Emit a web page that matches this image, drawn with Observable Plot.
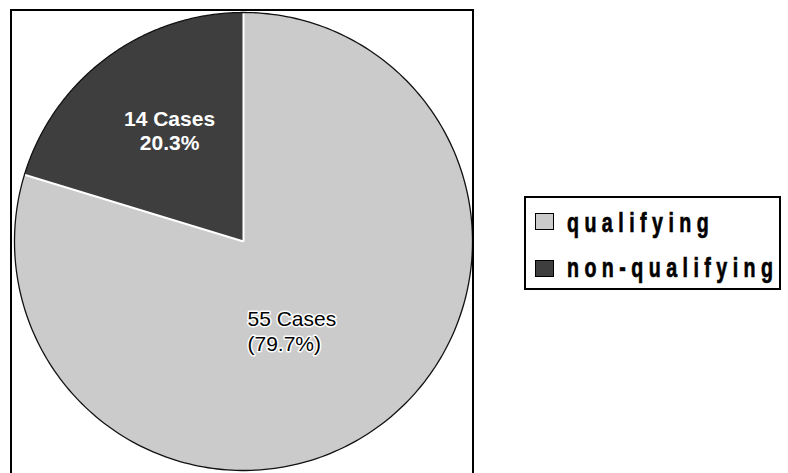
<!DOCTYPE html>
<html>
<head>
<meta charset="utf-8">
<script src="https://cdn.jsdelivr.net/npm/d3@7"></script>
<script src="https://cdn.jsdelivr.net/npm/@observablehq/plot@0.6"></script>
<style>
  html, body { margin: 0; padding: 0; background: #fff; }
  #wrap { position: relative; width: 788px; height: 473px; overflow: hidden; font-family: "Liberation Sans", Arial, sans-serif; }
  #wrap svg { position: absolute; left: 0; top: 0; }
  .frame { position: absolute; left: 10px; top: 9px; width: 460px; height: 480px; border: 2px solid #000; border-bottom: none; }
  .legend { position: absolute; left: 524px; top: 196px; width: 253px; height: 90px; border: 2px solid #000; background: #fff; }
  .sw { position: absolute; left: 535px; width: 17px; height: 15px; border: 1.5px solid #000; }
  .lt { position: absolute; left: 567px; font-size: 28px; line-height: 28px; font-weight: bold; white-space: nowrap;
        letter-spacing: 7.8px; transform: scaleX(0.7); transform-origin: 0 0; color: #000;
        -webkit-text-stroke: 0.7px #000; }
</style>
</head>
<body>
<div id="wrap"></div>
<script>
// ---- data ----
const categories = ["qualifying", "non-qualifying"];
const cases = [55, 14];
const percentText = ["(79.7%)", "20.3%"];

// ---- layout / style ----
const W = 788, H = 473;
const cx = 243, cy = 241, R = 229;
const fills = ["#cbcbcb", "#3e3e3e"];

const arcs = d3.pie().sort(null).value(d => d)(cases);
const pt = (a, r) => ({ x: cx + r * Math.sin(a), y: cy - r * Math.cos(a) });

const wedgePts = [];
const rimPts = [];
arcs.forEach((a, i) => {
  const n = 240;
  wedgePts.push({ cat: categories[i], ...pt(0, 0) });
  for (let k = 0; k <= n; k++) {
    const ang = a.startAngle + (a.endAngle - a.startAngle) * k / n;
    const p = pt(ang, R);
    wedgePts.push({ cat: categories[i], ...p });
    rimPts.push(p);
  }
  wedgePts.push({ cat: categories[i], ...pt(0, 0) });
});

const edges = arcs.map((a, i) => {
  const c = pt(0, 0), e = pt(a.startAngle, R);
  return { x1: c.x, y1: c.y, x2: e.x, y2: e.y };
});

const labels = arcs.map((a, i) => {
  const mid = (a.startAngle + a.endAngle) / 2;
  const p = pt(mid, R * 0.55);
  return { cat: categories[i], x: p.x, y: p.y, text: `${cases[i]} Cases\n${percentText[i]}` };
});

const chart = Plot.plot({
  width: W, height: H, margin: 0,
  x: { domain: [0, W], range: [0, W], axis: null },
  y: { domain: [0, H], range: [0, H], axis: null },
  color: { domain: categories, range: fills },
  style: { background: "transparent", fontFamily: "'Liberation Sans', Arial, sans-serif" },
  marks: [
    Plot.line(wedgePts, { x: "x", y: "y", z: "cat", fill: "cat", stroke: "none", curve: "linear" }),
    Plot.link(edges, { x1: "x1", y1: "y1", x2: "x2", y2: "y2", stroke: "#fff", strokeWidth: 2 }),
    Plot.line(rimPts, { x: "x", y: "y", stroke: "#111", strokeWidth: 1.3, curve: "linear" }),
    Plot.text(labels.filter(d => d.cat === "non-qualifying"), {
      x: "x", y: "y", text: "text", fill: "#fff", fontWeight: "bold", fontSize: 21,
      lineHeight: 1.15, textAnchor: "middle", dx: 1, dy: -10
    }),
    Plot.text(labels.filter(d => d.cat === "qualifying"), {
      x: "x", y: "y", text: "text", fill: "#000", stroke: "#fff", strokeWidth: 3, fontSize: 21,
      lineHeight: 1.15, textAnchor: "start", dx: -71, dy: -12
    })
  ]
});

const wrap = document.getElementById("wrap");
wrap.appendChild(chart);

const frame = document.createElement("div");
frame.className = "frame";
wrap.appendChild(frame);

const legend = document.createElement("div");
legend.className = "legend";
wrap.appendChild(legend);

const legendTops = [213, 260];
const textTops = [209, 254];
categories.forEach((c, i) => {
  const sw = document.createElement("div");
  sw.className = "sw";
  sw.style.top = legendTops[i] + "px";
  sw.style.background = fills[i];
  wrap.appendChild(sw);
  const t = document.createElement("div");
  t.className = "lt";
  t.style.top = textTops[i] + "px";
  t.textContent = c;
  wrap.appendChild(t);
});
</script>
</body>
</html>
